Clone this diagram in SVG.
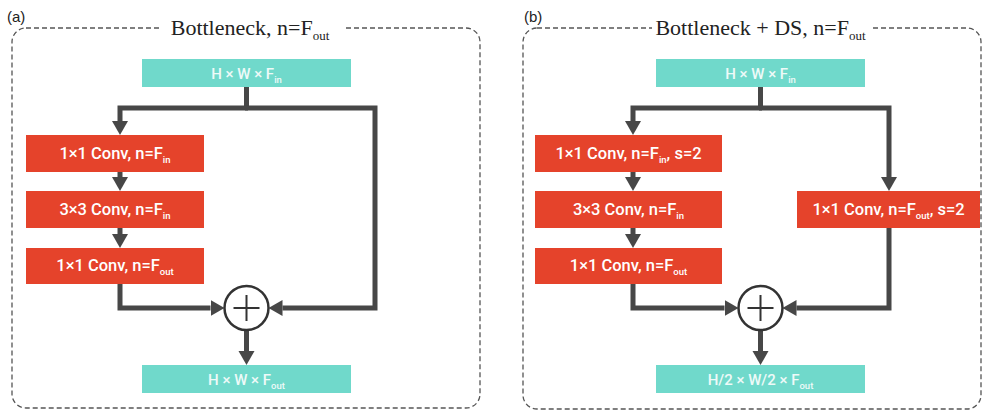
<svg xmlns="http://www.w3.org/2000/svg" width="982" height="412" viewBox="0 0 982 412">
<style>
.frame{fill:none;stroke:#555;stroke-width:1.3;stroke-dasharray:5 3}
.title{font-family:"Liberation Serif",serif;font-size:22px;fill:#222}
.panel{font-family:"Liberation Sans",Arial,sans-serif;font-size:15px;fill:#222}
.io rect{fill:#70d9cb}
.io text{font-family:Roboto,"Liberation Sans",sans-serif;font-size:15px;font-weight:500;fill:#eefaf8;text-anchor:middle}
.conv rect{fill:#e5432b}
.conv text{font-family:Roboto,"Liberation Sans",sans-serif;font-size:16.5px;font-weight:500;fill:#fff;text-anchor:middle}
.sub{font-size:9.5px}
.tsub{font-size:13px}
.edge{fill:none;stroke:#474747;stroke-width:5;stroke-linejoin:miter}
.add circle{fill:#fff;stroke:#333;stroke-width:2.5}
.add path{stroke:#333;stroke-width:2;fill:none}
</style>
<defs>
<marker id="ah" markerUnits="userSpaceOnUse" markerWidth="16" markerHeight="18" viewBox="0 -9 16 18" refX="0" refY="0" orient="auto">
<path d="M0,-8 L14,0 L0,8 z" fill="#474747"/>
</marker>
</defs>
<rect width="982" height="412" fill="#fff"/>

<g id="panel-a">
<rect class="frame" x="12" y="28" width="468" height="380" rx="14"/>
<rect x="161" y="16" width="182" height="24" fill="#fff"/>
<text class="title" x="250" y="35" text-anchor="middle">Bottleneck, n=F<tspan class="tsub" dy="5">out</tspan></text>
<text class="panel" x="7" y="22">(a)</text>
</g>

<g id="panel-b">
<rect class="frame" x="523" y="28" width="458" height="381" rx="14"/>
<rect x="652" y="16" width="218" height="24" fill="#fff"/>
<text class="title" x="760.5" y="35" text-anchor="middle">Bottleneck + DS, n=F<tspan class="tsub" dy="5">out</tspan></text>
<text class="panel" x="524" y="22">(b)</text>
</g>

<g id="connectors">
<path class="edge" d="M246.5,87 V108"/>
<path class="edge" d="M248,108 H120 V121" marker-end="url(#ah)"/>
<path class="edge" d="M245,108 H375 V308 H282.5" marker-end="url(#ah)"/>
<path class="edge" d="M120,172 V177" marker-end="url(#ah)"/>
<path class="edge" d="M120,228 V234" marker-end="url(#ah)"/>
<path class="edge" d="M120,284 V308 H210.5" marker-end="url(#ah)"/>
<path class="edge" d="M246.5,330 V351" marker-end="url(#ah)"/>
<path class="edge" d="M760.5,87 V108"/>
<path class="edge" d="M762,108 H633 V121" marker-end="url(#ah)"/>
<path class="edge" d="M759,108 H889 V177" marker-end="url(#ah)"/>
<path class="edge" d="M889,228 V308 H796.5" marker-end="url(#ah)"/>
<path class="edge" d="M633,172 V177" marker-end="url(#ah)"/>
<path class="edge" d="M633,228 V234" marker-end="url(#ah)"/>
<path class="edge" d="M633,284 V308 H724.5" marker-end="url(#ah)"/>
<path class="edge" d="M760.5,330 V351" marker-end="url(#ah)"/>
</g>

<g id="a-in" class="io"><rect x="142" y="59" width="209" height="28"/><text x="246.5" y="78.5">H × W × F<tspan class="sub" dy="4">in</tspan></text></g>
<g id="a-conv1" class="conv"><rect x="26" y="135" width="178" height="37"/><text x="115" y="159">1×1 Conv, n=F<tspan class="sub" dy="4">in</tspan></text></g>
<g id="a-conv2" class="conv"><rect x="26" y="191" width="178" height="37"/><text x="115" y="215">3×3 Conv, n=F<tspan class="sub" dy="4">in</tspan></text></g>
<g id="a-conv3" class="conv"><rect x="26" y="248" width="178" height="36"/><text x="115" y="271">1×1 Conv, n=F<tspan class="sub" dy="4">out</tspan></text></g>
<g id="a-add" class="add"><circle cx="246.5" cy="308" r="22"/><path d="M233.5,308 H259.5 M246.5,295 V321"/></g>
<g id="a-out" class="io"><rect x="142" y="365" width="209" height="28"/><text x="246.5" y="384.5">H × W × F<tspan class="sub" dy="4">out</tspan></text></g>

<g id="b-in" class="io"><rect x="656" y="59" width="209" height="28"/><text x="760.5" y="78.5">H × W × F<tspan class="sub" dy="4">in</tspan></text></g>
<g id="b-conv1" class="conv"><rect x="535" y="135" width="187" height="37"/><text x="628.5" y="159">1×1 Conv, n=F<tspan class="sub" dy="4">in</tspan><tspan dy="-4">, s=2</tspan></text></g>
<g id="b-conv2" class="conv"><rect x="535" y="191" width="187" height="37"/><text x="628.5" y="215">3×3 Conv, n=F<tspan class="sub" dy="4">in</tspan></text></g>
<g id="b-conv3" class="conv"><rect x="535" y="248" width="187" height="36"/><text x="628.5" y="271">1×1 Conv, n=F<tspan class="sub" dy="4">out</tspan></text></g>
<g id="b-convds" class="conv"><rect x="797" y="191" width="183" height="37"/><text x="888.5" y="215">1×1 Conv, n=F<tspan class="sub" dy="4">out</tspan><tspan dy="-4">, s=2</tspan></text></g>
<g id="b-add" class="add"><circle cx="760.5" cy="308" r="22"/><path d="M747.5,308 H773.5 M760.5,295 V321"/></g>
<g id="b-out" class="io"><rect x="656" y="365" width="209" height="28"/><text x="760.5" y="384.5">H/2 × W/2 × F<tspan class="sub" dy="4">out</tspan></text></g>
</svg>
